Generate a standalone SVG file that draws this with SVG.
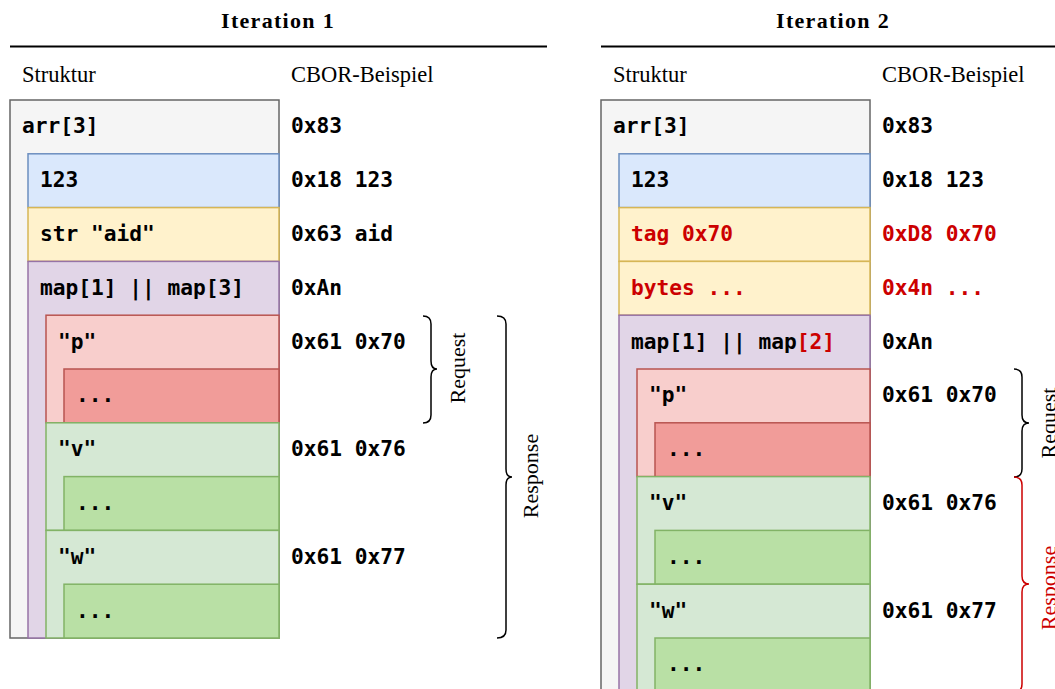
<svg xmlns="http://www.w3.org/2000/svg" width="1055" height="689" viewBox="0 0 1055 689">
<style>
.title{font-family:"Liberation Serif",serif;font-weight:bold;font-size:22px;letter-spacing:1.3px;text-anchor:middle}
.hdr{font-family:"Liberation Serif",serif;font-size:22.5px}
.side{font-family:"Liberation Serif",serif;font-size:22px;text-anchor:middle}
.m{font-family:"DejaVu Sans Mono","Liberation Mono",monospace;font-weight:bold;font-size:21.2px;fill:#000}
.red{fill:#cc0000}
.b{stroke-width:1.5}
.gray{fill:#f5f5f5;stroke:#666666}
.blue{fill:#dae8fc;stroke:#6c8ebf}
.yel{fill:#fff2cc;stroke:#d6b656}
.pur{fill:#e1d5e7;stroke:#9673a6}
.rl{fill:#f8cecc;stroke:#b85450}
.rd{fill:#f19c99;stroke:#b85450}
.gl{fill:#d5e8d4;stroke:#82b366}
.gd{fill:#b9e0a5;stroke:#82b366}
.brace{fill:none;stroke:#000;stroke-width:1.5}
</style>
<rect width="1055" height="689" fill="#ffffff"/>
<!-- Iteration 1 -->
<g id="iter1-header">
<text class="title" x="278" y="28">Iteration 1</text>
<line x1="10" y1="46.5" x2="547" y2="46.5" stroke="#000" stroke-width="2"/>
<text class="hdr" x="22" y="82">Struktur</text>
<text class="hdr" x="291" y="82">CBOR-Beispiel</text>
</g>
<g id="i1-arr"><rect class="gray b" x="10" y="100" width="269" height="538"/><text class="m" x="22" y="133">arr[3]</text><text class="m" x="291" y="133">0x83</text></g>
<g id="i1-123"><rect class="blue b" x="28" y="153.8" width="251" height="53.8"/><text class="m" x="40" y="187">123</text><text class="m" x="291" y="187">0x18 123</text></g>
<g id="i1-str"><rect class="yel b" x="28" y="207.6" width="251" height="53.8"/><text class="m" x="40" y="240.5">str "aid"</text><text class="m" x="291" y="240.5">0x63 aid</text></g>
<g id="i1-map"><rect class="pur b" x="28" y="261.4" width="251" height="376.6"/><text class="m" x="40" y="294.5">map[1] || map[3]</text><text class="m" x="291" y="294.5">0xAn</text></g>
<g id="i1-p"><rect class="rl b" x="46" y="315.2" width="233" height="107.6"/><text class="m" x="58" y="348.5">"p"</text><text class="m" x="291" y="348.5">0x61 0x70</text></g>
<g id="i1-p-val"><rect class="rd b" x="64" y="369" width="215" height="53.8"/><text class="m" x="76" y="402">...</text></g>
<g id="i1-v"><rect class="gl b" x="46" y="422.8" width="233" height="107.6"/><text class="m" x="58" y="456">"v"</text><text class="m" x="291" y="456">0x61 0x76</text></g>
<g id="i1-v-val"><rect class="gd b" x="64" y="476.6" width="215" height="53.8"/><text class="m" x="76" y="510">...</text></g>
<g id="i1-w"><rect class="gl b" x="46" y="530.4" width="233" height="107.6"/><text class="m" x="58" y="563.5">"w"</text><text class="m" x="291" y="563.5">0x61 0x77</text></g>
<g id="i1-w-val"><rect class="gd b" x="64" y="584.2" width="215" height="53.8"/><text class="m" x="76" y="617.5">...</text></g>
<g id="i1-braces">
<path class="brace" d="M423,316 Q431,316 431,324 L431,361 Q431,369 437,369 Q431,369 431,377 L431,415 Q431,423 423,423"/>
<text class="side" transform="translate(465,368) rotate(-90)">Request</text>
<path class="brace" d="M497,316 Q506,316 506,324 L506,469 Q506,477 512,477 Q506,477 506,485 L506,630 Q506,638 497,638"/>
<text class="side" transform="translate(538,476) rotate(-90)">Response</text>
</g>
<!-- Iteration 2 -->
<g id="iter2-header">
<text class="title" x="833" y="28">Iteration 2</text>
<line x1="601" y1="46.5" x2="1055" y2="46.5" stroke="#000" stroke-width="2"/>
<text class="hdr" x="613" y="82">Struktur</text>
<text class="hdr" x="882" y="82">CBOR-Beispiel</text>
</g>
<g id="i2-arr"><rect class="gray b" x="601" y="100" width="269" height="600"/><text class="m" x="613" y="133">arr[3]</text><text class="m" x="882" y="133">0x83</text></g>
<g id="i2-123"><rect class="blue b" x="619" y="153.8" width="251" height="53.8"/><text class="m" x="631" y="187">123</text><text class="m" x="882" y="187">0x18 123</text></g>
<g id="i2-tag"><rect class="yel b" x="619" y="207.6" width="251" height="53.8"/><text class="m red" x="631" y="240.5">tag 0x70</text><text class="m red" x="882" y="240.5">0xD8 0x70</text></g>
<g id="i2-bytes"><rect class="yel b" x="619" y="261.4" width="251" height="53.8"/><text class="m red" x="631" y="294.5">bytes ...</text><text class="m red" x="882" y="294.5">0x4n ...</text></g>
<g id="i2-map"><rect class="pur b" x="619" y="315.2" width="251" height="390"/><text class="m" x="631" y="348.5">map[1] || map<tspan class="red">[2]</tspan></text><text class="m" x="882" y="348.5">0xAn</text></g>
<g id="i2-p"><rect class="rl b" x="637" y="369" width="233" height="107.6"/><text class="m" x="649" y="402">"p"</text><text class="m" x="882" y="402">0x61 0x70</text></g>
<g id="i2-p-val"><rect class="rd b" x="655" y="422.8" width="215" height="53.8"/><text class="m" x="667" y="456">...</text></g>
<g id="i2-v"><rect class="gl b" x="637" y="476.6" width="233" height="107.6"/><text class="m" x="649" y="510">"v"</text><text class="m" x="882" y="510">0x61 0x76</text></g>
<g id="i2-v-val"><rect class="gd b" x="655" y="530.4" width="215" height="53.8"/><text class="m" x="667" y="563.5">...</text></g>
<g id="i2-w"><rect class="gl b" x="637" y="584.2" width="233" height="115"/><text class="m" x="649" y="617.5">"w"</text><text class="m" x="882" y="617.5">0x61 0x77</text></g>
<g id="i2-w-val"><rect class="gd b" x="655" y="638" width="215" height="60"/><text class="m" x="667" y="671">...</text></g>
<g id="i2-braces">
<path class="brace" d="M1014,369 Q1022,369 1022,377 L1022,415 Q1022,423 1029,423 Q1022,423 1022,431 L1022,469 Q1022,477 1014,477"/>
<text class="side" transform="translate(1056,423) rotate(-90)">Request</text>
<path class="brace" style="stroke:#cc0000" d="M1014,477 Q1022,477 1022,485 L1022,576 Q1022,584 1029,584 Q1022,584 1022,592 L1022,684 Q1022,692 1014,692"/>
<text class="side red" transform="translate(1056,588) rotate(-90)">Response</text>
</g>
</svg>
